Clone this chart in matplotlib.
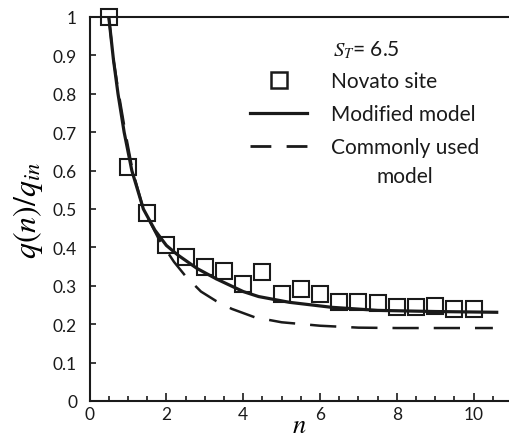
import matplotlib
matplotlib.use("Agg")
import matplotlib.pyplot as plt
from matplotlib.lines import Line2D
from matplotlib.ticker import MultipleLocator, FuncFormatter

plt.rcParams['font.family'] = ['Lato', 'DejaVu Sans']
plt.rcParams['mathtext.fontset'] = 'stix'

# Novato site observations
obs_n = [0.5, 1.0, 1.5, 2.0, 2.5, 3.0, 3.5, 4.0, 4.5, 5.0,
         5.5, 6.0, 6.5, 7.0, 7.5, 8.0, 8.5, 9.0, 9.5, 10.0]
obs_q = [1.0, 0.61, 0.49, 0.407, 0.376, 0.35, 0.338, 0.305, 0.337, 0.279,
         0.292, 0.279, 0.259, 0.257, 0.255, 0.245, 0.245, 0.247, 0.24, 0.24]

# Modified model
mod_n = [0.5, 0.62, 0.74, 0.9, 1.1, 1.4, 1.7, 2.0, 2.3, 2.8, 3.3, 4.0,
         4.4, 5.2, 6.3, 7.5, 9.0, 10.6]
mod_q = [1.0, 0.89, 0.80, 0.70, 0.60, 0.50, 0.445, 0.405, 0.38, 0.345, 0.318, 0.285,
         0.272, 0.257, 0.244, 0.236, 0.233, 0.231]

# Commonly used model
com_n = [0.5, 0.62, 0.76, 0.93, 1.12, 1.4, 1.8, 2.2, 2.5, 2.9, 3.3, 3.7,
         4.3, 5.0, 6.0, 7.0, 8.0, 9.0, 10.5]
com_q = [1.0, 0.89, 0.80, 0.70, 0.60, 0.50, 0.422, 0.362, 0.325, 0.285, 0.26, 0.24,
         0.218, 0.205, 0.196, 0.191, 0.19, 0.19, 0.19]

labels = ['Novato site', 'Modified model', 'Commonly used']
label_tail = 'model'

fig = plt.figure(figsize=(5.09, 4.39), dpi=100)
ax = fig.add_axes([0.176, 0.0843, 0.824, 0.8747])

ax.plot(com_n, com_q, color='#1a1a1a', lw=1.8, dashes=(10.5, 6), zorder=2)
ax.plot(mod_n, mod_q, color='#1a1a1a', lw=2.3, zorder=3)
ax.plot(obs_n, obs_q, ls='none', marker='s', ms=11.5, mfc='none',
        mec='#1a1a1a', mew=1.5, zorder=4, clip_on=False)

ax.set_xlim(0, 10.92)
ax.set_ylim(0, 1)
ax.xaxis.set_major_locator(MultipleLocator(2))
ax.xaxis.set_minor_locator(MultipleLocator(0.5))
ax.yaxis.set_major_locator(MultipleLocator(0.1))


def yfmt(v, pos):
    if abs(v) < 1e-9:
        return '0'
    if abs(v - 1) < 1e-9:
        return '1'
    return f'{v:.1f}'


ax.yaxis.set_major_formatter(FuncFormatter(yfmt))
ax.xaxis.set_major_formatter(FuncFormatter(lambda v, p: f'{v:.0f}'))
ax.tick_params(axis='both', which='both', direction='in', labelsize=12.5,
               colors='#1a1a1a', width=1.2)
ax.tick_params(axis='x', which='major', length=6)
ax.tick_params(axis='x', which='minor', length=3.5)
ax.tick_params(axis='y', which='major', length=4.5, pad=9)

for s in ['left', 'bottom', 'top']:
    ax.spines[s].set_linewidth(1.5)
    ax.spines[s].set_color('#1a1a1a')
ax.spines['right'].set_visible(False)

ax.set_xlabel(r'$n$', fontsize=19, labelpad=-7)
ax.set_ylabel(r'$q(n)/q_{in}$', fontsize=23, labelpad=6)

fig.text(333 / 509, 1 - 50 / 439, r'$S_T$' + '= 6.5', fontsize=15,
         ha='left', va='center', color='#1a1a1a')

handles = [
    Line2D([], [], ls='none', marker='s', ms=11.5, mfc='none', mec='#1a1a1a', mew=1.8),
    Line2D([], [], color='#1a1a1a', lw=2.3),
    Line2D([], [], color='#1a1a1a', lw=2.0, dashes=(7.5, 5.5)),
]
leg = ax.legend(handles, labels, loc='upper left',
                bbox_to_anchor=(250 / 509, 1 - 72 / 439),
                bbox_transform=fig.transFigure, frameon=False, fontsize=15,
                handlelength=2.75, handletextpad=1.15, labelspacing=0.62,
                borderpad=0, borderaxespad=0)
for t in leg.get_texts():
    t.set_color('#1a1a1a')

fig.canvas.draw()
bb = leg.get_texts()[-1].get_window_extent()
cx = (bb.x0 + bb.x1) / 2
cy = (bb.y0 + bb.y1) / 2 - 29
fig.text(cx / fig.bbox.width, cy / fig.bbox.height, label_tail, fontsize=15,
         ha='center', va='center', color='#1a1a1a')

fig.savefig('out.png', dpi=100)
